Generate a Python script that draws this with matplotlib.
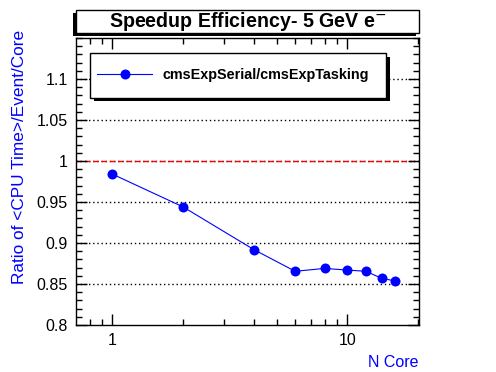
import matplotlib
matplotlib.use("Agg")
import matplotlib.pyplot as plt
from matplotlib.patches import Rectangle
from matplotlib.lines import Line2D
from matplotlib.ticker import MultipleLocator, FixedLocator, NullFormatter, FixedFormatter

plt.rcParams["font.family"] = ["Liberation Sans", "DejaVu Sans"]

# data
n_core = [1, 2, 4, 6, 8, 10, 12, 14, 16]
ratio = [0.984, 0.944, 0.892, 0.8655, 0.869, 0.867, 0.8655, 0.857, 0.8537]
series_label = "cmsExpSerial/cmsExpTasking"
grid_levels = [0.85, 0.9, 0.95, 1.0, 1.05, 1.1]
y_ticks = [0.8, 0.85, 0.9, 0.95, 1.0, 1.05, 1.1]

W, H = 496, 372
fig = plt.figure(figsize=(W / 100, H / 100), dpi=100)


def px(x0, y0, x1, y1):
    # pixel box (top-left origin) -> figure fraction rect
    return (x0 / W, 1 - y1 / H, (x1 - x0) / W, (y1 - y0) / H)


def box(x0, y0, x1, y1, **kw):
    r = px(x0, y0, x1, y1)
    fig.patches.append(Rectangle(r[:2], r[2], r[3], transform=fig.transFigure, **kw))


ax = fig.add_axes(px(76, 38, 419, 325))
ax.set_xscale("log")
ax.set_xlim(0.7, 20.2)
ax.set_ylim(0.8, 1.15)

for g in grid_levels:
    ax.axhline(g, color="black", linestyle=(0, (1, 2)), linewidth=1.0, zorder=1)
ax.axhline(1.0, color="#ff0000", linestyle=(0, (4, 2)), linewidth=1.0, zorder=1.5)

ax.plot(n_core, ratio, color="blue", linewidth=0.8, marker="o",
        markersize=7.2, markeredgewidth=0, zorder=3)

# ticks, ROOT style
ax.yaxis.set_minor_locator(MultipleLocator(0.01))
ax.set_yticks(y_ticks)
ax.set_yticklabels([f"{v:g}" for v in y_ticks])
ax.xaxis.set_major_locator(FixedLocator([1, 10]))
ax.xaxis.set_major_formatter(FixedFormatter(["1", "10"]))
ax.xaxis.set_minor_locator(FixedLocator([0.8, 0.9, 2, 3, 4, 5, 6, 7, 8, 9, 20]))
ax.xaxis.set_minor_formatter(NullFormatter())
ax.tick_params(which="both", direction="in", top=True, right=True,
               labelsize=11.5, width=1.0, pad=6)
ax.tick_params(which="major", length=8)
ax.tick_params(which="minor", length=4)
for s in ax.spines.values():
    s.set_linewidth(1.0)

ax.set_ylabel("Ratio of <CPU Time>/Event/Core", color="blue", fontsize=12.4)
ax.yaxis.set_label_coords(-0.142, 0.584)
ax.set_xlabel("N Core", color="blue", fontsize=11.5)
ax.xaxis.set_label_coords(1.0, -0.103)
ax.xaxis.label.set_horizontalalignment("right")

# title box with shadow
box(73, 13, 416, 36, facecolor="black", edgecolor="none")
box(76, 10, 419, 33, facecolor="white", edgecolor="black", linewidth=1.0)
fig.text((76 + 419) / 2 / W, 1 - 21.5 / H, "Speedup Efficiency- 5 GeV e$^{-}$",
         ha="center", va="center", fontsize=14.1, fontweight="bold")

# legend box with shadow
box(93.5, 56.5, 389.5, 101, facecolor="black", edgecolor="none")
box(90, 53, 386, 97.5, facecolor="white", edgecolor="black", linewidth=1.0)
handle = Line2D([], [], color="blue", linewidth=0.8, marker="o",
                markersize=7.2, markeredgewidth=0)
leg = fig.legend([handle], [series_label], loc="center left",
                 bbox_to_anchor=(90 / W, 1 - 75.5 / H), frameon=False,
                 handlelength=3.8, handletextpad=0.72, borderpad=0, borderaxespad=0.5,
                 prop={"weight": "bold", "size": 10.4})

fig.savefig("out.png", dpi=100)
